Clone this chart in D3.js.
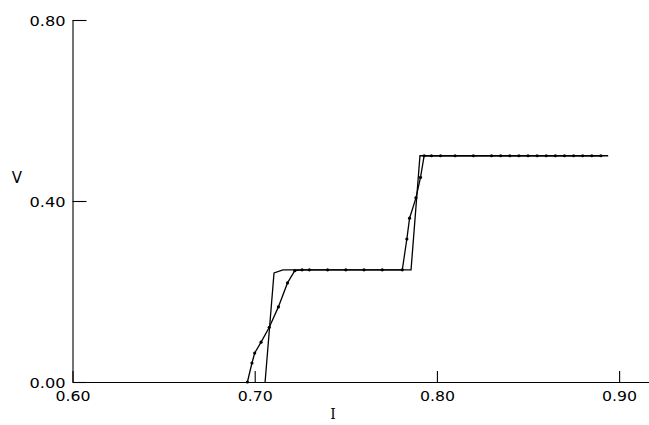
<!DOCTYPE html>
<html>
<head>
<meta charset="utf-8">
<script src="https://cdn.jsdelivr.net/npm/d3@7"></script>
<style>
  body { margin: 0; background: #fff; }
  text { font-family: "DejaVu Sans", sans-serif; fill: #000; }
</style>
</head>
<body>
<div id="chart"></div>
<script>
// tick values
const xTicks = [0.60, 0.70, 0.80, 0.90];
const yTicks = [0.00, 0.40, 0.80];

// measured curve (with dots)
const measI = [0.696, 0.6985, 0.700, 0.7035, 0.708, 0.713, 0.718, 0.722, 0.726, 0.730, 0.740, 0.750, 0.760, 0.770, 0.781,
               0.7835, 0.785, 0.7885, 0.791, 0.793, 0.797, 0.802, 0.810, 0.820, 0.830, 0.835, 0.840, 0.845, 0.850,
               0.855, 0.860, 0.865, 0.870, 0.875, 0.880, 0.885, 0.890];
const measV = [0.000, 0.042, 0.064, 0.088, 0.121, 0.166, 0.219, 0.246, 0.248, 0.248, 0.248, 0.248, 0.248, 0.248, 0.248,
               0.316, 0.362, 0.407, 0.452, 0.500, 0.500, 0.500, 0.500, 0.500, 0.500, 0.500, 0.500, 0.500, 0.500,
               0.500, 0.500, 0.500, 0.500, 0.500, 0.500, 0.500, 0.500];

// calculated curve (plain line)
const calcI = [0.7057, 0.7106, 0.7155, 0.7858, 0.7907, 0.894];
const calcV = [0.000, 0.241, 0.248, 0.248, 0.500, 0.500];

const width = 649, height = 425;

const svg = d3.select("#chart").append("svg")
    .attr("width", width)
    .attr("height", height);

const x = d3.scaleLinear().domain([0.60, 0.9164]).range([72.5, 649]);
const y = d3.scaleLinear().domain([0, 0.80]).range([382, 20]);

// x axis, ticks pointing up
const gx = svg.append("g")
    .attr("transform", `translate(0, ${y(0)})`)
    .call(d3.axisBottom(x).tickValues(xTicks).tickFormat(d3.format(".2f"))
        .tickSizeInner(-11).tickSizeOuter(0));
gx.selectAll("text")
    .attr("y", 19).attr("dy", 0)
    .attr("textLength", 35).attr("lengthAdjust", "spacingAndGlyphs")
    .style("font-size", "14px");

// y axis, ticks pointing right
const gy = svg.append("g")
    .attr("transform", `translate(${x(0.60)}, 0)`)
    .call(d3.axisLeft(y).tickValues(yTicks).tickFormat(d3.format(".2f"))
        .tickSizeInner(-14).tickSizeOuter(0).tickPadding(7));
gy.selectAll("text")
    .attr("dy", "0.36em")
    .attr("textLength", 36).attr("lengthAdjust", "spacingAndGlyphs")
    .style("font-size", "14px");

svg.selectAll(".domain, .tick line").attr("stroke", "#000").attr("stroke-width", 1.1);
svg.selectAll(".tick text").attr("fill", "#000").attr("font-family", null);

// axis titles
svg.append("text").attr("x", 17).attr("y", 183)
    .attr("text-anchor", "middle").style("font-size", "15px").text("V");
svg.append("text").attr("x", 333).attr("y", 419)
    .attr("text-anchor", "middle").attr("fill", "#000")
    .style("font-family", "'DejaVu Serif', serif")
    .style("font-size", "14px").text("I");

const line = d3.line().x(d => x(d[0])).y(d => y(d[1]));

const calc = calcI.map((v, i) => [v, calcV[i]]);
const meas = measI.map((v, i) => [v, measV[i]]);

svg.append("path").datum(calc)
    .attr("d", line).attr("fill", "none")
    .attr("stroke", "#000").attr("stroke-width", 1.3);

svg.append("path").datum(meas)
    .attr("d", line).attr("fill", "none")
    .attr("stroke", "#000").attr("stroke-width", 1.3);

svg.append("g").selectAll("circle")
    .data(meas)
    .join("circle")
    .attr("cx", d => x(d[0]))
    .attr("cy", d => y(d[1]))
    .attr("r", 1.6)
    .attr("fill", "#000");
</script>
</body>
</html>
